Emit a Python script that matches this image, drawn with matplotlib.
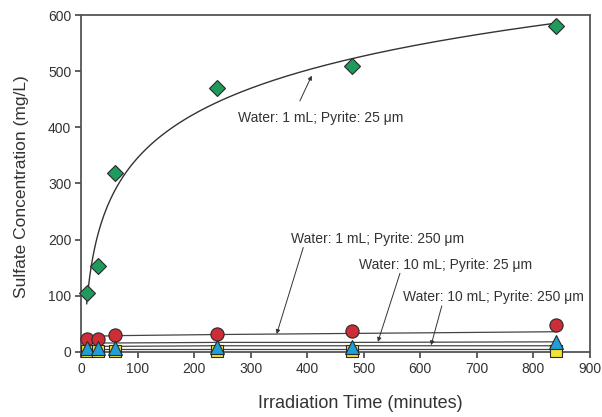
import numpy as np
import matplotlib
matplotlib.use('Agg')
import matplotlib.pyplot as plt

plt.rcParams['font.family'] = ['Liberation Sans', 'DejaVu Sans']

# irradiation times (minutes)
times = [10, 30, 60, 240, 480, 840]

# sulfate concentration (mg/L)
green = [105, 153, 318, 470, 510, 580]   # water 1 mL, pyrite 25 um
red = [23, 23, 30, 32, 38, 48]           # water 1 mL, pyrite 250 um
blue = [7, 7, 7, 9, 9, 18]               # water 10 mL, pyrite 25 um
yellow = [2, 2, 2, 1, 2, 1]              # water 10 mL, pyrite 250 um

# trend lines for the low series at the same times
red_fit = [27, 28, 29, 31, 33, 36]
blue_fit = [16, 16, 16, 17, 17, 18]
yellow_fit = [10, 10, 10, 11, 11, 11]
base_fit = [5, 5, 5, 5, 5, 5]

labels = ['Water: 1 mL; Pyrite: 25 \u03bcm', 'Water: 1 mL; Pyrite: 250 \u03bcm',
          'Water: 10 mL; Pyrite: 25 \u03bcm', 'Water: 10 mL; Pyrite: 250 \u03bcm']

txt = '#333333'
fig = plt.figure(figsize=(6.02, 4.17), dpi=100)
ax = fig.add_axes([0.1346, 0.156, 0.8454, 0.808])

# logarithmic fit of the 25 um / 1 mL series
t = np.array(times, dtype=float)
a, b = np.polyfit(np.log(t), green, 1)
tt = np.linspace(10, 840, 300)
ax.plot(tt, a * np.log(tt) + b, color='#333333', lw=1.0, zorder=2)

for fit in (red_fit, blue_fit, yellow_fit, base_fit):
    ax.plot(times, fit, color='#444444', lw=0.9, zorder=2)

mk = dict(mec='#2a2a2a', mew=0.8, ls='none', clip_on=False, zorder=4)
ax.plot(times, green, marker='D', ms=8.5, mfc='#1f9a5c', **mk)
ax.plot(times, yellow, marker='s', ms=9, mfc='#f2e233', **mk)
ax.plot(times, red, marker='o', ms=9.5, mfc='#cc2d36', **mk)
ax.plot(times, blue, marker='^', ms=10, mfc='#1e9fd8', **mk)

fs = 10
ax.text(423, 417, labels[0], fontsize=fs, color=txt, ha='center', va='center')
ax.text(524, 202, labels[1], fontsize=fs, color=txt, ha='center', va='center')
ax.text(645, 154, labels[2], fontsize=fs, color=txt, ha='center', va='center')
ax.text(729, 97, labels[3], fontsize=fs, color=txt, ha='center', va='center')

arr = dict(arrowstyle='-|>', lw=0.7, color='#333333', mutation_scale=6, shrinkA=0, shrinkB=0)
ax.annotate('', xy=(408, 492), xytext=(387, 447), arrowprops=arr)
ax.annotate('', xy=(346, 32), xytext=(393, 186), arrowprops=arr)
ax.annotate('', xy=(525, 18), xytext=(564, 140), arrowprops=arr)
ax.annotate('', xy=(619, 12), xytext=(638, 82), arrowprops=arr)

ax.set_xlim(0, 900)
ax.set_ylim(0, 600)
ax.set_xticks(range(0, 901, 100))
ax.set_yticks(range(0, 601, 100))
ax.tick_params(direction='out', length=4, width=1.2, color='#444444',
               labelsize=10, labelcolor=txt, pad=3)
for s in ax.spines.values():
    s.set_color('#555555')
    s.set_linewidth(1.3)

ax.set_xlabel('Irradiation Time (minutes)', fontsize=13, color=txt)
ax.set_ylabel('Sulfate Concentration (mg/L)', fontsize=12.5, color=txt)
ax.xaxis.set_label_coords(0.548, -0.128)
ax.yaxis.set_label_coords(-0.102, 0.49)

fig.savefig('out.png', dpi=100)
